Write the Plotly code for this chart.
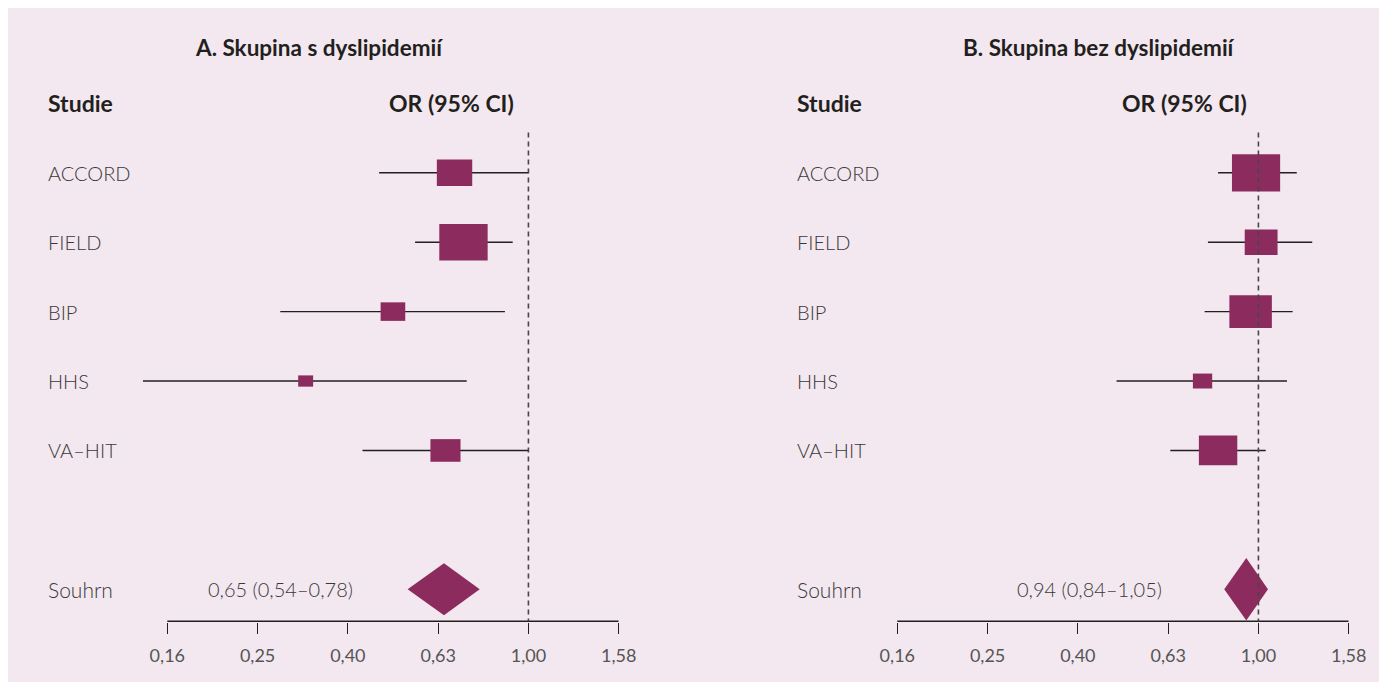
import math
import plotly.graph_objects as go

# ---------------- data ----------------
studies = ["ACCORD", "FIELD", "BIP", "HHS", "VA\u2013HIT"]

# Panel A: with dyslipidemia
a_or = [0.686, 0.718, 0.501, 0.321, 0.655]
a_lo = [0.467, 0.561, 0.282, 0.140, 0.429]
a_hi = [1.000, 0.923, 0.887, 0.730, 1.000]
a_weight = [23.5, 43.9, 11.4, 4.2, 17.0]
a_sum = [0.65, 0.54, 0.78]
a_sum_text = "0,65 (0,54\u20130,78)"

# Panel B: without dyslipidemia
b_or = [0.988, 1.014, 0.961, 0.752, 0.814]
b_lo = [0.814, 0.773, 0.760, 0.485, 0.638]
b_hi = [1.216, 1.316, 1.191, 1.157, 1.038]
b_weight = [32.9, 15.3, 25.6, 5.3, 20.9]
b_sum = [0.94, 0.84, 1.05]
b_sum_text = "0,94 (0,84\u20131,05)"

tick_values = [0.1585, 0.2512, 0.3981, 0.6310, 1.0, 1.5849]
tick_labels = ["0,16", "0,25", "0,40", "0,63", "1,00", "1,58"]

titles = ["A. Skupina s dyslipidemií", "B. Skupina bez dyslipidemií"]
summary_label = "Souhrn"

# ---------------- layout helpers ----------------
W, H = 1380, 674
BG = "#f3e8ef"
BOX = "#8c2c5e"
LINE = "#231f20"
TXT = "#3a3839"
FONT = "Lato"
PX_PER_DEC = 451.4      # pixels per log10 unit
ROW_PX = 69.5           # pixels per row
rows = [1, 2, 3, 4, 5]
sum_row = 7
axis_row = 7.46
y_bottom = axis_row + 0.8 / ROW_PX
y_top = -1.374
X_LO, X_HI = -0.9, 0.2001   # log10 range


def xp(xpage):
    return (xpage - 8) / W


def domain(x_tick0_page):
    left = x_tick0_page - (-0.8 - X_LO) * PX_PER_DEC
    right = x_tick0_page + (X_HI + 0.8) * PX_PER_DEC
    return [xp(left), xp(right)]


fig = go.Figure()


def add_panel(xa, ya, ors, los, his, weights, summ, wscale, hscale, dh):
    # axis baseline between first and last tick
    fig.add_trace(go.Scatter(x=[tick_values[0], tick_values[-1]], y=[axis_row, axis_row],
                             mode="lines", line=dict(color=LINE, width=1.4),
                             xaxis=xa, yaxis=ya, showlegend=False, hoverinfo="skip"))
    for r, lo, hi in zip(rows, los, his):
        fig.add_trace(go.Scatter(x=[lo, hi], y=[r, r], mode="lines",
                                 line=dict(color=LINE, width=1.4),
                                 xaxis=xa, yaxis=ya, showlegend=False,
                                 hoverinfo="skip"))
    for r, o, w in zip(rows, ors, weights):
        s = math.sqrt(w)
        hw = s * wscale / 2 / PX_PER_DEC
        hh = s * hscale / 2 / ROW_PX
        x0 = o / 10 ** hw
        x1 = o * 10 ** hw
        fig.add_trace(go.Scatter(x=[x0, x1, x1, x0, x0],
                                 y=[r - hh, r - hh, r + hh, r + hh, r - hh],
                                 fill="toself", fillcolor=BOX, mode="lines",
                                 line=dict(color=BOX, width=0),
                                 xaxis=xa, yaxis=ya, showlegend=False,
                                 hoverinfo="skip"))
    est, lo, hi = summ
    fig.add_trace(go.Scatter(x=[lo, est, hi, est, lo],
                             y=[sum_row, sum_row - dh / 2, sum_row, sum_row + dh / 2, sum_row],
                             fill="toself", fillcolor=BOX, mode="lines",
                             line=dict(color=BOX, width=0),
                             xaxis=xa, yaxis=ya, showlegend=False,
                             hoverinfo="skip"))
    # reference line at OR = 1
    fig.add_trace(go.Scatter(x=[1, 1], y=[0.42, axis_row], mode="lines",
                             line=dict(color="#4a4446", width=1.6, dash="5px,4px"),
                             xaxis=xa, yaxis=ya, showlegend=False,
                             hoverinfo="skip"))


add_panel("x", "y", a_or, a_lo, a_hi, a_weight, a_sum, 7.3, 5.5, 0.75)
add_panel("x2", "y2", b_or, b_lo, b_hi, b_weight, b_sum, 8.4, 6.5, 0.9)

axis_common = dict(type="log", range=[X_LO, X_HI], tickvals=tick_values,
                   ticktext=tick_labels, showline=False,
                   ticks="outside", ticklen=11, tickwidth=1.4,
                   tickcolor=LINE, showgrid=False, zeroline=False,
                   tickfont=dict(family=FONT, size=18, color="#555"),
                   ticklabelstandoff=6, automargin=False,
                   fixedrange=True)
yaxis_common = dict(range=[y_bottom, y_top], visible=False, showgrid=False,
                    zeroline=False, fixedrange=True, automargin=False)

fig.update_layout(
    width=W, height=H,
    margin=dict(l=0, r=0, t=0, b=60, pad=0, autoexpand=False),
    paper_bgcolor=BG, plot_bgcolor=BG,
    xaxis=dict(domain=domain(167.3), anchor="y", **axis_common),
    xaxis2=dict(domain=domain(897.3), anchor="y2", **axis_common),
    yaxis=dict(domain=[0, 1], anchor="x", **yaxis_common),
    yaxis2=dict(domain=[0, 1], anchor="x2", **yaxis_common),
    font=dict(family=FONT, color=TXT),
    showlegend=False,
)

ann = []
panels = [
    dict(yref="y", label_x=46, title_x=318.5, or_x=452, sum_x=280, sum_text=a_sum_text, title=titles[0]),
    dict(yref="y2", label_x=795, title_x=1099, or_x=1184, sum_x=1089, sum_text=b_sum_text, title=titles[1]),
]
for p in panels:
    ann.append(dict(x=xp(p["title_x"]), y=-0.8, xref="paper", yref=p["yref"],
                    text="<b>" + p["title"] + "</b>", showarrow=False,
                    xanchor="center", yanchor="middle",
                    font=dict(family=FONT, size=22.5, color=LINE)))
    ann.append(dict(x=xp(p["label_x"]), y=0, xref="paper", yref=p["yref"],
                    text="<b>Studie</b>", showarrow=False,
                    xanchor="left", yanchor="middle",
                    font=dict(family=FONT, size=23, color=LINE)))
    ann.append(dict(x=xp(p["or_x"]), y=0, xref="paper", yref=p["yref"],
                    text="<b>OR (95% CI)</b>", showarrow=False,
                    xanchor="center", yanchor="middle",
                    font=dict(family=FONT, size=23, color=LINE)))
    for r, s in zip(rows, studies):
        ann.append(dict(x=xp(p["label_x"]), y=r, xref="paper", yref=p["yref"],
                        text=s, showarrow=False, xanchor="left", yanchor="middle",
                        font=dict(family=FONT, size=20, color=TXT, weight=300)))
    ann.append(dict(x=xp(p["label_x"]), y=sum_row, xref="paper", yref=p["yref"],
                    text=summary_label, showarrow=False, xanchor="left",
                    yanchor="middle",
                    font=dict(family=FONT, size=21, color=TXT, weight=300)))
    ann.append(dict(x=xp(p["sum_x"]), y=sum_row, xref="paper", yref=p["yref"],
                    text=p["sum_text"], showarrow=False, xanchor="center",
                    yanchor="middle",
                    font=dict(family=FONT, size=20, color=TXT, weight=300)))
fig.update_layout(annotations=ann)

fig.write_html("out.html")
